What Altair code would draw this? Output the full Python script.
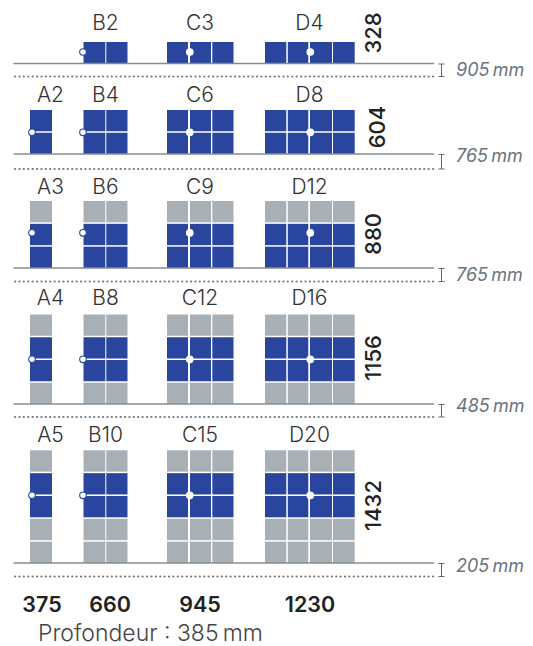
import altair as alt
import pandas as pd

# ---- chart values ----
column_names = ["A", "B", "C", "D"]
column_widths_mm = [375, 660, 945, 1230]
cells_across = [1, 2, 3, 4]
heights_mm = [328, 604, 880, 1156, 1432]
cells_high = [1, 2, 3, 4, 5]
clearances_mm = [905, 765, 765, 485, 205]
# door rows counted from the top of each unit: 1 = blue, 0 = gray
door_pattern = [[1], [1, 1], [0, 1, 1], [0, 1, 1, 0], [0, 1, 1, 0, 0]]
depth_label = "Profondeur : 385\u2009mm"

# ---- layout of the schematic (page pixels used as the scale's units) ----
col_edges = [
    [(30, 52)],
    [(83.5, 105.3), (106.3, 127.5)],
    [(167, 188), (190, 211), (212.3, 233.5)],
    [(265, 286.3), (287.8, 308.3), (310, 332), (333, 354.7)],
]
row_tops = [42, 110, 201, 314.5, 450.3]
row_floors = [63.5, 154, 268, 404, 563]
dot_lines = [76.5, 169, 281.5, 417, 576.5]
hinge_x = [32, 83, 189.8, 310.3]
hinge_y = [52, 132.3, 232.8, 359.3, 495.3]
code_x = [50.5, 105.5, 200, 309.5]
code_y = [24, 95.5, 187.5, 299, 436]
height_x = [374, 377.5, 374, 374, 374]
height_y = [33, 127, 234, 358, 505.5]
clear_y = [70.5, 157, 275.5, 407, 567]
gap = 1.5

BLUE = "#2A459E"
GRAY = "#A8B0B5"
FONT = "Inter"

cells, codes, hinges = [], [], []
for r, n_high in enumerate(cells_high):
    step = (row_floors[r] - row_tops[r] + gap) / n_high
    for c, n_across in enumerate(cells_across):
        if r == 0 and c == 0:
            continue
        codes.append({"t": f"{column_names[c]}{n_high * n_across}", "x": code_x[c], "y": code_y[r]})
        hinges.append({"x": hinge_x[c], "y": hinge_y[r], "edge": "out" if c < 2 else "in"})
        for i in range(n_high):
            top = row_tops[r] + i * step
            for x0, x1 in col_edges[c]:
                cells.append({"x": x0, "x2": x1, "y": top, "y2": top + step - gap,
                              "kind": "blue" if door_pattern[r][i] else "gray"})

floors = pd.DataFrame({"x": [13.5] * 5, "x2": [434] * 5, "y": row_floors})
dots = pd.DataFrame({"x": [15] * 5, "x2": [436] * 5, "y": dot_lines})
beam = pd.DataFrame({"x": [441.5] * 5, "y": [f + 0.5 for f in row_floors], "y2": dot_lines})
serifs = pd.DataFrame(
    {"x": [438.5] * 10, "x2": [444.5] * 10,
     "y": [f + 0.5 for f in row_floors] + dot_lines}
)
clear = pd.DataFrame({"t": [f"{v}\u2009mm" for v in clearances_mm], "x": [456] * 5, "y": clear_y})
heights = pd.DataFrame({"t": [str(v) for v in heights_mm], "x": height_x, "y": height_y})
widths = pd.DataFrame({"t": [str(v) for v in column_widths_mm], "x": [42, 110, 200, 310], "y": [605.5] * 4})
depth = pd.DataFrame({"t": [depth_label], "x": [38], "y": [634]})

xs = alt.Scale(domain=[8, 525], nice=False, zero=False)
ys = alt.Scale(domain=[646, 8], nice=False, zero=False)
X = alt.X("x:Q", scale=xs, axis=None)
Y = alt.Y("y:Q", scale=ys, axis=None)


def rule(df, **kw):
    enc = {"x": X, "y": Y}
    if "x2" in df:
        enc["x2"] = "x2:Q"
    if "y2" in df:
        enc["y2"] = "y2:Q"
    return alt.Chart(df).mark_rule(**kw).encode(**enc)


def text(df, **kw):
    return alt.Chart(df).mark_text(font=FONT, baseline="middle", **kw).encode(x=X, y=Y, text="t:N")


cell_layer = alt.Chart(pd.DataFrame(cells)).mark_rect(strokeWidth=0).encode(
    x=X, x2="x2:Q", y=Y, y2="y2:Q",
    color=alt.Color("kind:N", legend=None,
                    scale=alt.Scale(domain=["blue", "gray"], range=[BLUE, GRAY])),
)
hinge_layer = alt.Chart(pd.DataFrame(hinges)).mark_point(
    shape="circle", filled=True, fill="white", size=44, strokeWidth=1.1, opacity=1
).encode(
    x=X, y=Y,
    stroke=alt.Stroke("edge:N", legend=None,
                      scale=alt.Scale(domain=["out", "in"], range=[BLUE, "white"])),
)

chart = alt.layer(
    cell_layer,
    rule(floors, color="#858C91", strokeWidth=1.5),
    rule(dots, color="#6F7A84", strokeWidth=2.2, strokeDash=[0.1, 4.3], strokeCap="round"),
    rule(beam, color="#5F6A74", strokeWidth=1),
    rule(serifs, color="#5F6A74", strokeWidth=1),
    hinge_layer,
    text(pd.DataFrame(codes), fontSize=21, fontWeight=300, color="#333333", align="center"),
    text(heights, fontSize=22, fontWeight=500, color="#222222", align="center", angle=270),
    text(widths, fontSize=21.5, fontWeight=600, color="#222222", align="center"),
    text(clear, fontSize=18, fontStyle="italic", fontWeight=400, color="#6A737C", align="left"),
    text(depth, fontSize=23, fontWeight=300, color="#444444", align="left"),
).properties(
    width=517, height=638, padding=0, autosize=alt.AutoSizeParams(type="none")
).configure_view(stroke=None)

chart.save("out.html", embed_options={"renderer": "svg", "actions": False})
